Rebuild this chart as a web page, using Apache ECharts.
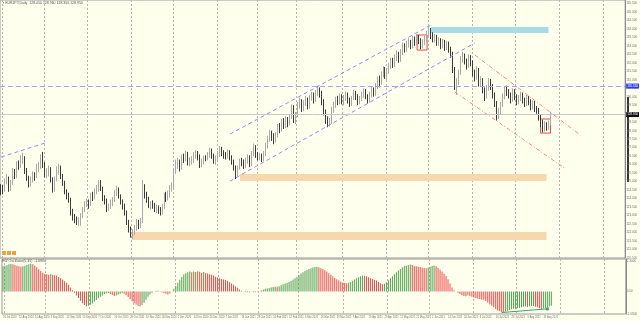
<!DOCTYPE html>
<html lang="en">
<head>
<meta charset="UTF-8">
<title>EURJPY Daily</title>
<script src="https://cdn.jsdelivr.net/npm/echarts@6.0.0/dist/echarts.min.js"></script>
<style>
  html, body { margin: 0; padding: 0; background: #ffffee; }
  #chart { width: 640px; height: 321px; }
</style>
</head>
<body>
<div id="chart"></div>
<script>
// date labels, one every 8 bars starting at bar 0
const dateLabels = ['31 Jul 2020', '12 Aug 2020', '24 Aug 2020', '3 Sep 2020', '15 Sep 2020', '25 Sep 2020',
  '7 Oct 2020', '19 Oct 2020', '29 Oct 2020', '10 Nov 2020', '20 Nov 2020', '2 Dec 2020', '14 Dec 2020',
  '24 Dec 2020', '7 Jan 2021', '19 Jan 2021', '29 Jan 2021', '10 Feb 2021', '22 Feb 2021', '4 Mar 2021',
  '16 Mar 2021', '26 Mar 2021', '7 Apr 2021', '19 Apr 2021', '29 Apr 2021', '11 May 2021', '21 May 2021',
  '2 Jun 2021', '14 Jun 2021', '24 Jun 2021', '6 Jul 2021', '16 Jul 2021', '28 Jul 2021', '9 Aug 2021', '19 Aug 2021'];
const labelStep = 8;
const totalBars = 314;
// first bar of each month (grid lines)
const monthStarts = [1, 22, 44, 66, 87, 109, 129, 149, 172, 194, 215, 237, 259, 281, 303];

// daily candles [open, close, low, high]
const ohlc = [
  [124.60,124.55,124.20,124.85],[124.55,124.45,124.25,124.80],[124.45,125.05,124.40,125.20],[125.05,125.20,124.85,125.45],[125.20,124.55,124.40,125.30],
  [124.55,124.90,124.45,125.10],[124.90,125.60,124.80,125.80],[125.60,125.30,125.15,125.75],[125.30,126.00,125.20,126.20],[126.00,125.95,125.70,126.25],
  [125.95,126.25,125.80,126.55],[126.25,126.40,126.05,126.70],[126.40,125.60,125.45,126.50],[125.60,125.20,125.05,125.80],[125.20,124.80,124.65,125.35],
  [124.80,125.10,124.70,125.30],[125.10,125.40,124.95,125.60],[125.40,125.30,125.05,125.55],[125.30,125.90,125.20,126.05],[125.90,125.90,125.55,126.15],
  [125.90,126.40,125.75,126.60],[126.40,126.05,125.80,126.75],[126.05,125.40,125.25,126.15],[125.40,125.55,125.20,125.80],[125.55,125.70,125.30,125.95],
  [125.70,125.10,124.95,125.85],[125.10,124.50,124.35,125.25],[124.50,125.10,124.40,125.30],[125.10,125.60,125.00,125.90],[125.60,125.85,125.40,126.05],
  [125.85,125.30,125.15,125.95],[125.30,124.90,124.75,125.45],[124.90,124.40,124.25,125.05],[124.40,124.15,123.95,124.55],[124.15,123.90,123.75,124.35],
  [123.90,123.20,123.00,124.05],[123.20,122.90,122.70,123.40],[122.90,122.75,122.55,123.10],[122.75,122.60,122.45,122.95],[122.60,122.65,122.40,122.90],
  [122.65,123.00,122.40,123.15],[123.00,123.35,122.85,123.50],[123.35,123.70,123.20,123.85],[123.70,123.75,123.50,124.00],[123.75,123.60,123.40,123.95],
  [123.60,124.20,123.55,124.35],[124.20,124.05,123.85,124.40],[124.05,124.40,123.95,124.60],[124.40,124.55,124.25,124.80],[124.55,124.95,124.40,125.10],
  [124.95,124.60,124.45,125.10],[124.60,124.00,123.85,124.70],[124.00,123.85,123.65,124.20],[123.85,123.40,123.20,124.00],[123.40,123.50,123.25,123.70],
  [123.50,123.75,123.40,123.95],[123.75,123.90,123.55,124.10],[123.90,124.30,123.80,124.50],[124.30,124.55,124.15,124.75],[124.55,124.15,124.00,124.65],
  [124.15,123.80,123.65,124.25],[123.80,123.55,123.35,123.95],[123.55,123.20,123.00,123.70],[123.20,122.60,122.45,123.30],[122.60,122.20,122.00,122.75],
  [122.20,121.95,121.70,122.35],[121.95,122.00,121.60,122.20],[122.00,122.25,121.85,122.45],[122.25,122.60,122.10,122.80],[122.60,122.40,122.20,122.75],
  [122.40,122.65,122.25,122.85],[122.65,124.60,122.55,125.10],[124.60,124.25,124.00,124.85],[124.25,123.95,123.75,124.40],[123.95,123.60,123.45,124.10],
  [123.60,123.65,123.35,123.85],[123.65,123.60,123.40,123.90],[123.60,123.40,123.20,123.75],[123.40,123.45,123.15,123.65],[123.45,123.30,123.10,123.60],
  [123.30,123.20,123.00,123.50],[123.20,123.50,123.05,123.70],[123.50,124.20,123.40,124.35],[124.20,124.00,123.80,124.40],[124.00,124.20,123.90,124.45],
  [124.20,124.60,124.05,124.80],[124.60,124.75,124.40,124.95],[124.75,125.60,124.60,125.80],[125.60,125.95,125.45,126.30],[125.95,126.10,125.75,126.40],
  [126.10,125.80,125.60,126.30],[125.80,126.40,125.70,126.60],[126.40,126.35,126.10,126.65],[126.35,126.60,126.20,126.80],[126.60,126.10,125.95,126.75],
  [126.10,126.20,125.90,126.45],[126.20,126.25,126.00,126.50],[126.25,126.55,126.10,126.75],[126.55,126.65,126.35,126.85],[126.65,126.50,126.25,126.80],
  [126.50,126.00,125.80,126.60],[126.00,126.15,125.85,126.35],[126.15,126.40,126.00,126.55],[126.40,126.35,126.20,126.55],[126.35,126.55,126.25,126.75],
  [126.55,126.80,126.40,127.00],[126.80,126.50,126.35,126.95],[126.50,126.20,126.05,126.65],[126.20,126.35,126.00,126.55],[126.35,126.60,126.20,126.80],
  [126.60,126.90,126.45,127.10],[126.90,126.70,126.50,127.05],[126.70,126.55,126.35,126.85],[126.55,126.50,126.30,126.75],[126.50,126.70,126.35,126.90],
  [126.70,126.40,126.25,126.85],[126.40,126.20,126.00,126.55],[126.20,125.80,125.65,126.30],[125.80,125.40,125.15,125.95],[125.40,125.80,125.30,125.95],
  [125.80,126.20,125.70,126.35],[126.20,126.10,125.90,126.40],[126.10,125.95,125.75,126.30],[125.95,126.20,125.80,126.40],[126.20,126.40,126.05,126.60],
  [126.40,126.00,125.85,126.55],[126.00,126.60,125.90,126.80],[126.60,127.05,126.50,127.25],[127.05,126.55,126.40,127.15],[126.55,126.45,126.25,126.75],
  [126.45,126.50,126.25,126.70],[126.50,126.35,126.15,126.65],[126.35,126.60,126.20,126.80],[126.60,127.10,126.50,127.30],[127.10,127.50,126.95,127.70],
  [127.50,127.80,127.35,128.05],[127.80,127.60,127.40,128.00],[127.60,127.40,127.20,127.85],[127.40,127.70,127.30,127.90],[127.70,128.20,127.60,128.40],
  [128.20,128.10,127.85,128.45],[128.10,128.50,127.95,128.70],[128.50,128.30,128.10,128.75],[128.30,128.60,128.15,128.85],[128.60,128.40,128.20,128.80],
  [128.40,128.80,128.30,129.00],[128.80,129.30,128.70,129.55],[129.30,128.60,128.45,129.50],[128.60,128.90,128.40,129.10],[128.90,129.50,128.80,129.70],
  [129.50,129.70,129.30,129.95],[129.70,129.30,129.10,129.85],[129.30,129.60,129.15,129.80],[129.60,129.80,129.45,130.05],[129.80,129.40,129.25,129.95],
  [129.40,129.90,129.30,130.10],[129.90,130.10,129.75,130.30],[130.10,129.80,129.60,130.25],[129.80,130.20,129.70,130.40],[130.20,130.40,130.05,130.65],
  [130.40,130.20,129.95,130.55],[130.20,129.70,129.50,130.35],[129.70,129.10,128.90,129.85],[129.10,128.60,128.40,129.25],[128.60,128.40,128.20,128.85],
  [128.40,128.50,128.25,128.75],[128.50,129.20,128.40,129.40],[129.20,129.50,129.05,129.70],[129.50,129.80,129.35,130.00],[129.80,129.70,129.50,130.05],
  [129.70,130.00,129.55,130.20],[130.00,129.70,129.55,130.15],[129.70,129.90,129.50,130.10],[129.90,130.10,129.75,130.30],[130.10,129.80,129.60,130.25],
  [129.80,129.60,129.40,129.95],[129.60,129.90,129.45,130.05],[129.90,130.20,129.80,130.40],[130.20,130.00,129.80,130.35],[130.00,129.70,129.50,130.15],
  [129.70,129.90,129.55,130.05],[129.90,130.10,129.75,130.30],[130.10,130.30,129.95,130.50],[130.30,130.00,129.85,130.45],[130.00,129.80,129.60,130.15],
  [129.80,130.10,129.65,130.30],[130.10,130.40,129.95,130.60],[130.40,130.20,130.00,130.55],[130.20,130.60,130.05,130.80],[130.60,131.00,130.45,131.20],
  [131.00,130.80,130.55,131.25],[130.80,131.30,130.70,131.50],[131.30,131.60,131.15,131.80],[131.60,131.20,131.05,131.75],[131.20,131.50,131.00,131.70],
  [131.50,131.80,131.35,132.00],[131.80,132.10,131.65,132.30],[132.10,131.90,131.70,132.30],[131.90,132.30,131.75,132.50],[132.30,132.50,132.10,132.75],
  [132.50,132.20,132.00,132.65],[132.20,132.60,132.05,132.80],[132.60,133.00,132.45,133.20],[133.00,132.80,132.60,133.15],[132.80,133.10,132.65,133.30],
  [133.10,133.20,132.90,133.45],[133.20,133.00,132.80,133.35],[133.00,133.40,132.85,133.60],[133.40,133.20,133.00,133.55],[133.20,133.50,133.05,133.70],
  [133.50,133.30,133.10,133.65],[133.30,133.00,132.80,133.45],[133.00,133.20,132.85,133.40],[133.20,133.40,133.05,133.60],[133.40,133.70,133.25,133.90],
  [133.70,133.90,133.55,134.10],[133.90,133.60,133.40,134.05],[133.60,133.40,133.20,133.80],[133.40,133.50,133.20,133.70],[133.50,133.20,133.00,133.65],
  [133.20,133.30,133.00,133.50],[133.30,133.00,132.80,133.45],[133.00,133.20,132.85,133.40],[133.20,132.90,132.70,133.35],[132.90,133.10,132.75,133.30],
  [133.10,132.80,132.60,133.25],[132.80,132.50,132.30,132.95],[132.50,131.60,131.40,132.65],[131.60,130.60,130.40,131.75],[130.60,130.90,130.10,131.10],
  [130.90,131.40,130.70,131.60],[131.40,132.20,131.30,132.40],[132.20,132.40,132.00,132.65],[132.40,132.10,131.90,132.55],[132.10,131.80,131.60,132.25],
  [131.80,132.30,131.70,132.50],[132.30,132.00,131.80,132.45],[132.00,131.40,131.20,132.15],[131.40,131.10,130.90,131.60],[131.10,131.60,131.00,131.80],
  [131.60,130.80,130.60,131.70],[130.80,131.00,130.60,131.20],[131.00,130.40,130.20,131.10],[130.40,130.00,129.75,130.55],[130.00,130.50,129.90,130.70],
  [130.50,130.90,130.35,131.10],[130.90,130.60,130.40,131.05],[130.60,130.10,129.90,130.75],[130.10,129.60,129.40,130.25],[129.60,129.00,128.60,129.75],
  [129.00,129.10,128.70,129.35],[129.10,129.50,128.95,129.70],[129.50,130.00,129.40,130.20],[130.00,130.40,129.85,130.60],[130.40,130.30,130.05,130.65],
  [130.30,130.10,129.90,130.45],[130.10,129.80,129.60,130.25],[129.80,130.30,129.70,130.50],[130.30,130.00,129.80,130.45],[130.00,129.70,129.50,130.15],
  [129.70,129.90,129.55,130.10],[129.90,130.10,129.75,130.30],[130.10,129.80,129.60,130.25],[129.80,129.60,129.40,129.95],[129.60,129.90,129.45,130.10],
  [129.90,129.70,129.50,130.05],[129.70,129.40,129.20,129.85],[129.40,129.60,129.25,129.80],[129.60,129.30,129.10,129.75],[129.30,129.20,129.00,129.45],
  [129.20,128.80,128.60,129.35],[128.80,128.40,128.20,128.95],[128.40,128.05,127.90,128.65],[128.05,128.35,127.95,128.55],[128.35,128.15,128.00,128.50],
  [128.15,128.45,128.05,128.60],[128.45,128.95,128.35,129.10]
];

// EW oscillator histogram values
const ewo = [
  1.90, 1.95, 2.00, 2.05, 2.08, 2.06, 2.00, 1.95, 1.90, 1.86,
  1.90, 1.95, 2.00, 2.05, 2.10, 2.05, 1.95, 1.82, 1.68, 1.55, 1.42,
  1.32, 1.30, 1.26, 1.30, 1.27, 1.22, 1.20, 1.10, 1.00, 0.90, 0.78, 0.65, 0.50, 0.30, 0.10,
  -0.10, -0.30, -0.50, -0.70, -0.88, -1.02, -1.12, -1.08,
  -1.00, -0.90, -0.78, -0.65, -0.52, -0.40, -0.30, -0.20,
  -0.15, -0.12, -0.20, -0.26, -0.35, -0.30, -0.22, -0.15, -0.12, -0.18, -0.28,
  -0.42, -0.58, -0.74, -0.88, -0.98, -1.08, -1.12, -1.02, -0.85, -0.62, -0.40, -0.22,
  -0.10, 0.00, 0.05, 0.06, 0.02, -0.05, -0.12, -0.18, -0.22, -0.15,
  0.00, 0.20, 0.42, 0.65, 0.88, 1.10, 1.28, 1.38, 1.45, 1.50,
  1.45, 1.50, 1.46, 1.52, 1.48, 1.42, 1.46, 1.40, 1.35, 1.30, 1.26, 1.20, 1.12, 1.05, 1.00, 0.95, 0.90, 0.86,
  0.80, 0.70, 0.60, 0.50, 0.40, 0.28, 0.15,
  0.05, 0.00, -0.04, -0.06, -0.05, 0.00, -0.04, -0.06, -0.03, 0.02,
  0.10, 0.15, 0.20, 0.22, 0.26, 0.30, 0.34, 0.36, 0.35, 0.40, 0.46, 0.55,
  0.60, 0.66, 0.72, 0.80, 0.90, 1.00,
  1.10, 1.22, 1.35, 1.45, 1.55, 1.62, 1.70, 1.76, 1.80, 1.85, 1.86, 1.82, 1.76, 1.70, 1.60, 1.50, 1.38, 1.26, 1.14, 1.02,
  0.92, 0.82, 0.74, 0.68, 0.64, 0.62, 0.66, 0.72, 0.80,
  0.90, 1.00, 1.08, 1.15, 1.20, 1.18, 1.14, 1.08, 1.00, 0.94, 0.88, 0.82,
  0.72, 0.62, 0.54, 0.58,
  0.70, 0.85, 1.00, 1.15, 1.30, 1.45, 1.58, 1.70, 1.80, 1.90, 1.95, 2.00, 2.04, 2.00, 1.95, 1.90, 1.86, 1.85, 1.80, 1.78, 1.75, 1.80, 1.86, 1.92, 1.96,
  1.90, 1.78, 1.64, 1.50, 1.34, 1.16, 0.92,
  0.60, 0.30, 0.10, 0.00,
  -0.10, -0.20, -0.28, -0.35, -0.36, -0.30, -0.35,
  -0.40, -0.45, -0.50, -0.55, -0.56, -0.60, -0.62,
  -0.72, -0.84, -0.96, -1.08, -1.20, -1.32, -1.44,
  -1.50, -1.55, -1.56, -1.52, -1.46,
  -1.40, -1.35, -1.30, -1.30, -1.26, -1.24,
  -1.20, -1.16, -1.14, -1.18, -1.14, -1.10, -1.10, -1.15,
  -1.20, -1.26, -1.32, -1.28, -1.24, -1.18, -1.14, -1.08
];

// drawn objects, in [bar, price]
const levelLine = 130.63;
const lastPrice = 128.95;
const blueLines = [[[0, 126.45], [22, 127.27]], [[115, 127.80], [216, 134.23]], [[115, 125.03], [238, 133.17]]];
const redLines = [[[238, 132.46], [291, 127.74]], [[228, 130.28], [283, 125.80]]];
const blueZone = [[216, 134.11], [275, 133.76]];
const supportZones = [[[120, 125.45], [274, 125.03]], [[66, 122.03], [274, 121.56]]];
const insideBoxes = [[[209, 133.64], [214, 132.75]], [[271, 128.69], [276, 127.86]]];
const divergenceLine = [[251, -1.59], [274, -1.31]];

const cats = Array.from({ length: totalBars }, (_, i) => i);
const ewoData = ewo.map((v, i) => ({
  value: v,
  itemStyle: { color: i > 0 && v < ewo[i - 1] ? '#ee4b4b' : '#4f9f4f' }
}));

const tiny = { fontSize: 3, color: '#707070', fontFamily: 'Liberation Sans' };
const dashBlue = { color: '#8d8df5', type: [4, 3], width: 1 };
const dashRed = { color: '#f28a8a', type: [4, 2, 1, 2], width: 1 };

const chart = echarts.init(document.getElementById('chart'), null, { renderer: 'canvas' });
chart.setOption({
  animation: false,
  backgroundColor: '#ffffee',
  grid: [
    { left: 0, right: 12, top: 0, height: 258, show: true, borderColor: '#9a9a9a', borderWidth: 1 },
    { left: 0, right: 12, top: 259, height: 55, show: true, borderColor: '#9a9a9a', borderWidth: 1 }
  ],
  xAxis: [
    {
      type: 'category', gridIndex: 0, data: cats, boundaryGap: true,
      axisLine: { show: false }, axisTick: { show: false }, axisLabel: { show: false },
      splitLine: { show: true, interval: (i) => monthStarts.includes(i), lineStyle: { color: '#b5b5b5', type: [2, 2] } }
    },
    {
      type: 'category', gridIndex: 1, data: cats, boundaryGap: true,
      axisLine: { show: false }, axisTick: { show: false },
      axisLabel: Object.assign({
        interval: (i) => i % labelStep === 0 && i / labelStep < dateLabels.length,
        formatter: (v, i) => dateLabels[i / labelStep] || '',
        align: 'left', margin: 2
      }, tiny, { fontSize: 2.6 }),
      splitLine: { show: true, interval: (i) => monthStarts.includes(i), lineStyle: { color: '#b5b5b5', type: [2, 2] } }
    }
  ],
  yAxis: [
    {
      type: 'value', gridIndex: 0, position: 'right', min: 120.5, max: 135.7, interval: 0.5,
      axisLine: { show: true, lineStyle: { color: '#8a8a8a' } }, axisTick: { show: false },
      axisLabel: Object.assign({ margin: 1, showMaxLabel: false, formatter: (v) => v.toFixed(3) }, tiny),
      splitLine: { show: false }
    },
    {
      type: 'value', gridIndex: 1, position: 'right', min: -1.7, max: 2.45,
      axisLine: { show: true, lineStyle: { color: '#8a8a8a' } }, axisTick: { show: false },
      axisLabel: Object.assign({ margin: 1, customValues: [2.3, 0, -1.68],
        formatter: (v) => v === 0 ? '0.00' : v.toFixed(4) }, tiny),
      splitLine: { show: false }
    }
  ],
  series: [
    {
      type: 'candlestick', xAxisIndex: 0, yAxisIndex: 0, data: ohlc, barWidth: 1,
      itemStyle: { color: '#e4e4e4', color0: '#3a3a3a', borderColor: '#a8a8a8', borderColor0: '#3a3a3a', borderWidth: 1 },
      markArea: {
        silent: true,
        data: [
          [{ coord: blueZone[0], itemStyle: { color: '#a9dbe6' } }, { coord: blueZone[1] }],
          ...supportZones.map(z => [{ coord: z[0], itemStyle: { color: '#f6d8ac' } }, { coord: z[1] }]),
          ...insideBoxes.map(z => [{ coord: z[0], itemStyle: { color: 'rgba(0,0,0,0)', borderColor: '#e84a4a', borderWidth: 1 } }, { coord: z[1] }])
        ]
      },
      markLine: {
        silent: true, symbol: 'none', animation: false,
        data: [
          ...blueLines.map(l => [{ coord: l[0], lineStyle: dashBlue }, { coord: l[1] }]),
          ...redLines.map(l => [{ coord: l[0], lineStyle: dashRed }, { coord: l[1] }]),
          { yAxis: levelLine, lineStyle: { color: '#a3a3f5', type: [5, 3], width: 1 },
            label: { show: true, position: 'end', formatter: levelLine.toFixed(3), fontSize: 3, color: '#fff', backgroundColor: '#2f3ff0', padding: [1, 1], distance: 1 } },
          { yAxis: lastPrice, lineStyle: { color: '#c8c8c8', type: 'solid', width: 1 },
            label: { show: true, position: 'end', formatter: lastPrice.toFixed(3), fontSize: 3, color: '#fff', backgroundColor: '#111', padding: [1, 1], distance: 1 } }
        ],
        label: { show: false }
      },
      markPoint: {
        silent: true, symbol: 'none',
        data: [
          { coord: [266, 128.05], label: { show: true, formatter: 'inside\nbar', fontSize: 4, lineHeight: 4, color: '#e83c3c' } },
          { coord: [277, 127.98], label: { show: true, formatter: '— 127.860', fontSize: 3.5, color: '#e83c3c', align: 'left' } }
        ]
      }
    },
    {
      type: 'bar', xAxisIndex: 1, yAxisIndex: 1, data: ewoData, barWidth: 1,
      markLine: {
        silent: true, symbol: ['none', 'rect'], symbolSize: 3,
        data: [[{ coord: divergenceLine[0], lineStyle: { color: '#37a86a', type: 'solid', width: 1 } }, { coord: divergenceLine[1] }]],
        label: { show: false }
      },
      markPoint: {
        silent: true, symbol: 'none',
        data: [{ coord: [261, 0.41], label: { show: true, formatter: 'bullish divergence', fontSize: 4.5, color: '#f03a3a' } }]
      }
    }
  ],
  graphic: [
    { type: 'text', left: 3, top: 1, style: { text: '▪ EURJPY,Daily  128.450 128.960 128.350 128.950', fontSize: 3.5, fill: '#555' } },
    { type: 'text', left: 2, top: 259, style: { text: 'EW Oscillator(5,35)  -1.0800', fontSize: 3.5, fill: '#555' } },
    { type: 'rect', left: 2, top: 251, shape: { width: 4, height: 4 }, style: { fill: '#e9a045' } },
    { type: 'rect', left: 7, top: 251, shape: { width: 4, height: 4 }, style: { fill: '#e9a045' } },
    { type: 'rect', left: 12, top: 251, shape: { width: 4, height: 4 }, style: { fill: '#e9a045' } },
    { type: 'line', shape: { x1: 628, y1: 97, x2: 628, y2: 182 }, style: { stroke: '#333', lineWidth: 2 } }
  ]
});
</script>
</body>
</html>
